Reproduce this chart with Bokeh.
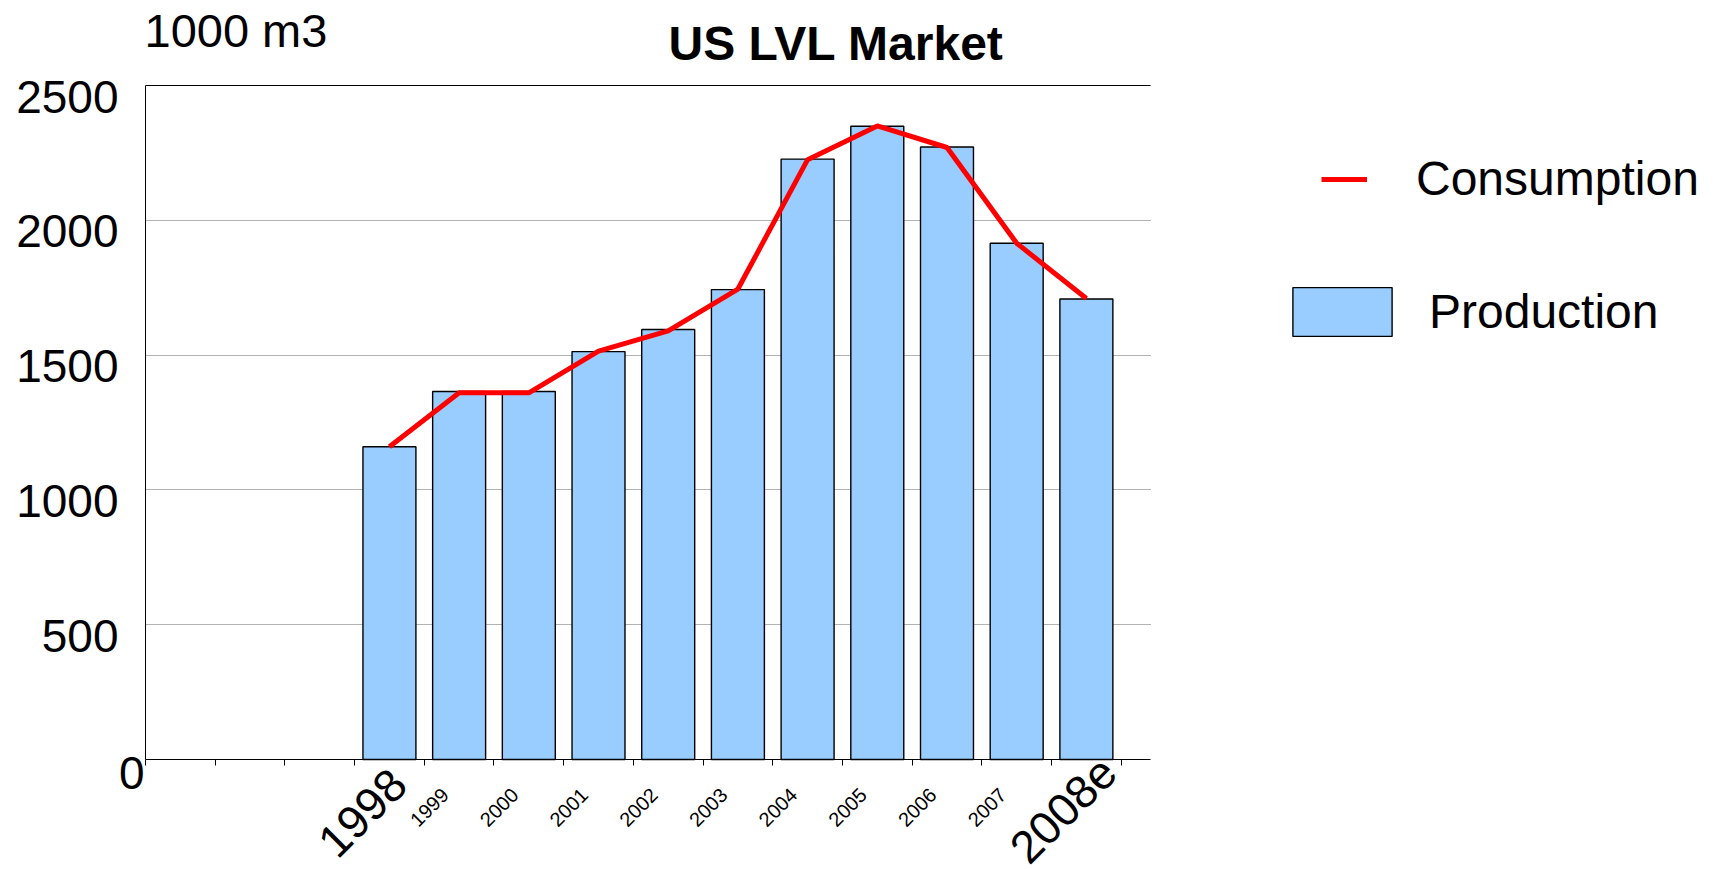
from math import pi
from bokeh.plotting import figure
from bokeh.models import (ColumnDataSource, FixedTicker, Range1d, Legend,
                          LegendItem, LinearAxis, Label)
from bokeh.embed import file_html
from bokeh.resources import INLINE

# ---- data ----
years = ["1998", "1999", "2000", "2001", "2002", "2003", "2004", "2005", "2006", "2007", "2008e"]
production = [1160, 1365, 1365, 1513, 1595, 1743, 2227, 2349, 2272, 1915, 1708]
consumption = [1160, 1360, 1360, 1515, 1590, 1745, 2225, 2350, 2270, 1915, 1710]
y_ticks = [0, 500, 1000, 1500, 2000, 2500]
big_labels = ["1998", "2008e"]
unit_text = "1000 m3"
title_text = "US LVL Market"
n_blank = 3  # empty category slots before 1998

# ---- layout / style ----
FONT = "Liberation Sans"
W, H = 1700, 868
PL, PR, PT, PB = 145, 1150, 85, 759          # plot area inside the canvas (px)
n_slots = n_blank + len(years)
x_chart_end = n_slots + 0.42
px_per_slot = (PR - PL) / x_chart_end
y_top = y_ticks[-1]
upp = y_top / (PB - PT)                        # data units per px (y)

x = [n_blank + i + 0.5 for i in range(len(years))]
src = ColumnDataSource(dict(x=x, year=years, production=production, consumption=consumption))

p = figure(width=W, height=H, output_backend="svg", toolbar_location=None,
           x_axis_location=None, y_axis_location=None,
           x_range=Range1d(-PL / px_per_slot, x_chart_end + (W - PR) / px_per_slot),
           y_range=Range1d(-(H - PB) * upp, y_top + PT * upp),
           min_border=0)
p.title.visible = False
p.outline_line_color = None
p.background_fill_color = "white"
p.border_fill_color = "white"
p.xgrid.visible = False
p.ygrid.visible = False

bars = p.vbar(x="x", top="production", width=0.76, source=src,
              fill_color="#99CCFF", line_color="black", line_width=1.4)
line = p.line(x="x", y="consumption", source=src, line_color="#FF0000", line_width=5)


def plain_axis(ax, size, standoff):
    ax.major_tick_out = 0
    ax.major_tick_in = 0
    ax.minor_tick_out = 0
    ax.minor_tick_in = 0
    ax.major_tick_line_color = None
    ax.minor_tick_line_color = None
    ax.major_label_text_font = FONT
    ax.major_label_text_font_size = size
    ax.major_label_text_color = "black"
    ax.major_label_standoff = standoff


# horizontal grid lines (drawn as inward ticks of a label-less axis, behind the bars)
gax = LinearAxis(fixed_location=0, bounds=(0, y_top),
                 ticker=FixedTicker(ticks=[t for t in y_ticks if 0 < t < y_top]),
                 level="underlay")
plain_axis(gax, "10px", 0)
gax.axis_line_color = None
gax.major_label_text_color = None
gax.major_tick_in = PR - PL
gax.major_tick_line_color = "#666666"
gax.major_tick_line_dash = "1 1"
gax.major_tick_line_width = 1
p.add_layout(gax, "left")

# y axis: labels sit slightly below their grid lines
drop = 11 * upp
p.extra_y_ranges = {"ylab": Range1d(p.y_range.start + drop, p.y_range.end + drop)}
yax = LinearAxis(y_range_name="ylab", fixed_location=0, bounds=(drop, y_top + drop),
                 ticker=FixedTicker(ticks=[t for t in y_ticks if t > 0]))
plain_axis(yax, "46px", 27)
yax.axis_line_color = "black"
yax.axis_line_width = 1
p.add_layout(yax, "left")

# top line
tax = LinearAxis(fixed_location=y_top, bounds=(0, x_chart_end), ticker=FixedTicker(ticks=[]))
plain_axis(tax, "10px", 0)
tax.axis_line_color = "black"
tax.axis_line_width = 1
p.add_layout(tax, "above")

# x axis with small year labels
shift = 14 / px_per_slot
tick_pos = [round(v - shift, 3) for v in x]
xax = LinearAxis(fixed_location=0, bounds=(0, x_chart_end),
                 ticker=FixedTicker(ticks=tick_pos, minor_ticks=list(range(0, n_slots + 1))))
xax.major_label_overrides = {t: ("" if y in big_labels else y) for t, y in zip(tick_pos, years)}
plain_axis(xax, "20px", 26)
xax.minor_tick_out = 6
xax.minor_tick_line_color = "black"
xax.major_label_orientation = pi / 4
xax.axis_line_color = "black"
xax.axis_line_width = 1
p.add_layout(xax, "below")

# big year labels
big_off = {"1998": (9, -17), "2008e": (22, -5)}
for yr in big_labels:
    dx, dy = big_off[yr]
    p.add_layout(Label(x=x[years.index(yr)], y=0, text=yr, angle=pi / 4,
                       text_align="right", text_baseline="middle",
                       text_font=FONT, text_font_size="46px", text_color="black",
                       x_offset=dx, y_offset=dy))

# "0" at the origin
p.add_layout(Label(x=0, y=0, text=str(y_ticks[0]), text_align="right", text_baseline="top",
                   text_font=FONT, text_font_size="46px", text_color="black",
                   x_offset=-1, y_offset=3))

# unit label and title
p.add_layout(Label(x=144, y=H - 30, x_units="screen", y_units="screen", text=unit_text,
                   text_font=FONT, text_font_size="47px", text_color="black",
                   text_baseline="alphabetic"))
p.add_layout(Label(x=668, y=H - 43, x_units="screen", y_units="screen", text=title_text,
                   text_font=FONT, text_font_size="48px", text_font_style="bold",
                   text_color="black", text_baseline="alphabetic"))

# legends
common = dict(padding=0, margin=0, border_line_alpha=0, background_fill_alpha=0,
              label_text_font=FONT, label_text_font_size="48px", label_text_color="black")
leg1 = Legend(items=[LegendItem(label="Consumption", renderers=[line])],
              location=(1321, H - 206), glyph_width=46, glyph_height=20, label_standoff=49, **common)
leg2 = Legend(items=[LegendItem(label="Production", renderers=[bars])],
              location=(1280, H - 342), glyph_width=124, glyph_height=61, label_standoff=25, **common)
p.add_layout(leg1)
p.add_layout(leg2)

open("out.html", "w").write(file_html(p, INLINE))
